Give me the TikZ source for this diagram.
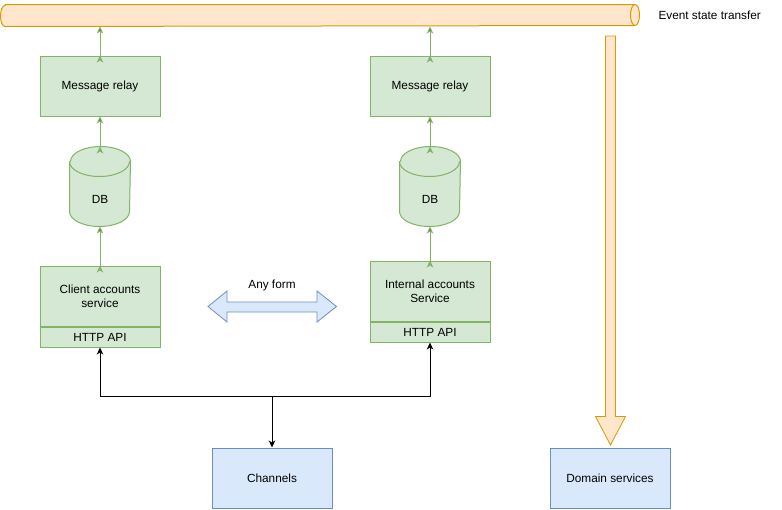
\documentclass[tikz,border=0pt]{standalone}
\usepackage{fontspec}
\setmainfont{Liberation Sans}
\usetikzlibrary{positioning,arrows.meta}
\definecolor{gfill}{HTML}{D5E8D4}
\definecolor{gline}{HTML}{82B366}
\definecolor{bfill}{HTML}{DAE8FC}
\definecolor{bline}{HTML}{6C8EBF}
\definecolor{ofill}{HTML}{FFE6CC}
\definecolor{oline}{HTML}{D79B00}
\begin{document}
\begin{tikzpicture}[x=1pt,y=-1pt,line width=1pt,
	every node/.style={font=\fontsize{11.8}{14}\selectfont,inner sep=0pt,align=center},
	gbox/.style={rectangle,draw=gline,fill=gfill,minimum width=120,minimum height=60},
	apibox/.style={rectangle,draw=gline,fill=gfill,minimum width=120,minimum height=20},
	bbox/.style={rectangle,draw=bline,fill=bfill,minimum width=120,minimum height=60},
	dbnode/.style={rectangle,minimum width=60,minimum height=79},
	dbshape/.style={draw=gline,fill=gfill},
	pipeshape/.style={draw=oline,fill=ofill},
	garrow/.style={draw=gline,-{Stealth[length=7,width=6.5,inset=2]}},
	barrow/.style={draw=black,-{Stealth[length=7,width=6.5,inset=2]}}]
	\useasboundingbox (0,0) rectangle (782,509);

	\node[rectangle,minimum width=638,minimum height=21]	(pipe)	at	(320,15.5)	{};
	\draw[pipeshape]	([xshift=4.5pt]pipe.north west) -- ([xshift=-4.5pt]pipe.north east) arc[start angle=90,end angle=-90,x radius=4.5pt,y radius=10.5pt] -- ([xshift=4.5pt]pipe.south west) arc[start angle=270,end angle=90,x radius=4.5pt,y radius=10.5pt] -- cycle;
	\draw[pipeshape]	([xshift=-4.5pt]pipe.north east) arc[start angle=90,end angle=270,x radius=4.5pt,y radius=10.5pt];
	\node[anchor=west]	(est)	at	(658,15)	{Event state transfer};

	\node[gbox]	(relay1)	at	(100,86)	{Message relay};
	\node[gbox]	(relay2)	at	(430,86)	{Message relay};

	\node[dbnode]	(db1)	at	(100,186.5)	{};
	\node[dbnode]	(db2)	at	(430,186.5)	{};
	\draw[dbshape]	([yshift=-15pt]db1.north west) -- ([yshift=15pt]db1.south west) arc[start angle=180,end angle=360,x radius=30pt,y radius=15pt] -- ([yshift=-15pt]db1.north east) arc[start angle=0,end angle=180,x radius=30pt,y radius=15pt] -- cycle;
	\draw[dbshape]	([yshift=-15pt]db1.north west) arc[start angle=180,end angle=360,x radius=30pt,y radius=15pt];
	\draw[dbshape]	([yshift=-15pt]db2.north west) -- ([yshift=15pt]db2.south west) arc[start angle=180,end angle=360,x radius=30pt,y radius=15pt] -- ([yshift=-15pt]db2.north east) arc[start angle=0,end angle=180,x radius=30pt,y radius=15pt] -- cycle;
	\draw[dbshape]	([yshift=-15pt]db2.north west) arc[start angle=180,end angle=360,x radius=30pt,y radius=15pt];
	\node	(db1t)	at	([yshift=-12.5pt]db1.center)	{DB};
	\node	(db2t)	at	([yshift=-12.5pt]db2.center)	{DB};

	\node[gbox]	(csvc)	at	(100,296)	{Client accounts\\service};
	\node[apibox,below=0pt of csvc]	(capi)	{HTTP API};
	\node[gbox]	(isvc)	at	(430,291)	{Internal accounts\\Service};
	\node[apibox,below=0pt of isvc]	(iapi)	{HTTP API};
	\node[bbox]	(chan)	at	(272,478)	{Channels};
	\node[bbox]	(dom)	at	(610,478)	{Domain services};
	\node	(anyform)	at	(272,285)	{Any form};
	\coordinate	(bus)	at	(272,396);

	\path[garrow]	(relay1.north)	edge	(relay1.north |- pipe.south);
	\path[garrow]	(relay2.north)	edge	(relay2.north |- pipe.south);
	\path[garrow]	(db1.north)	edge	(relay1.south);
	\path[garrow]	(db2.north)	edge	(relay2.south);
	\path[garrow]	(csvc.north)	edge	(db1.south);
	\path[garrow]	(isvc.north)	edge	(db2.south);

	\draw[barrow]	(bus)	-|	(capi.south);
	\draw[barrow]	(bus)	-|	(iapi.south);
	\draw[barrow]	(bus)	--	(chan.north);

	\draw[draw=bline,fill=bfill,line width=0.8pt,line join=miter]	(208,306.5) -- (227,291) -- (227,302) -- (317,302) -- (317,291) -- (336.5,306.5) -- (317,322) -- (317,312) -- (227,312) -- (227,322) -- cycle;
	\draw[draw=oline,fill=ofill,line width=0.8pt,line join=miter]	(605.5,36) -- (615.5,36) -- (615.5,416.5) -- (625.5,416.5) -- (610.5,445) -- (595.5,416.5) -- (605.5,416.5) -- cycle;
\end{tikzpicture}
\end{document}
